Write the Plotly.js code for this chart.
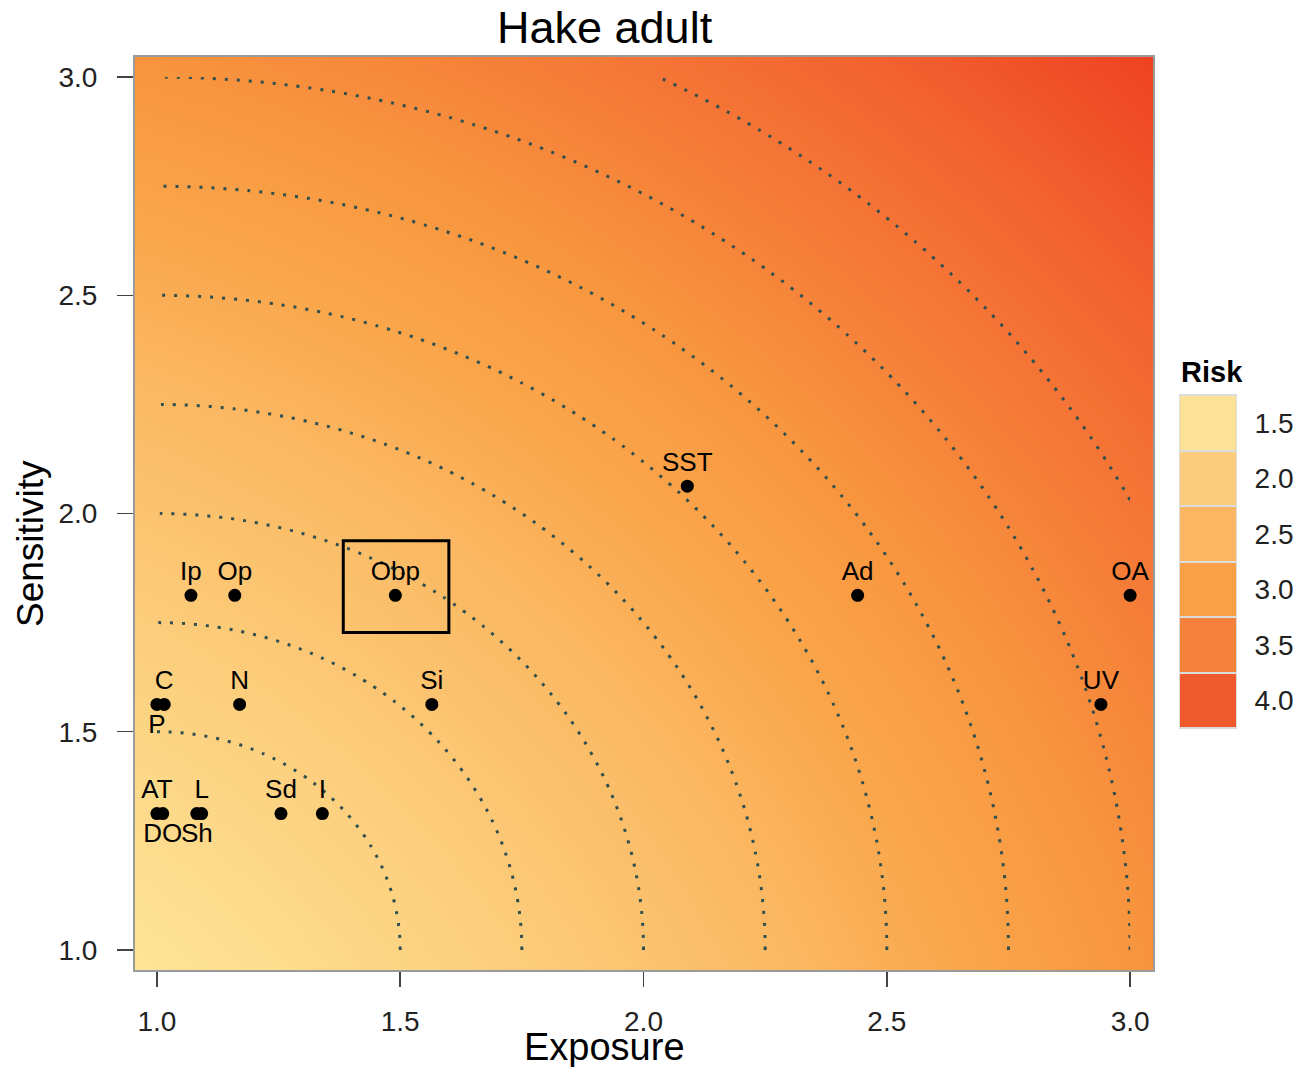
<!DOCTYPE html>
<html>
<head>
<meta charset="utf-8">
<script src="https://cdn.plot.ly/plotly-3.0.1.min.js"></script>
<style>html,body{margin:0;padding:0;background:#fff;}#chart{width:1297px;height:1067px;}</style>
</head>
<body>
<div id="chart"></div>
<script>
// ---- data ----
const labels      = ['SST','Ad','OA','UV','Ip','Op','Obp','C','P','N','Si','AT','DO','L','Sh','Sd','I'];
const exposure    = [2.09, 2.44, 3.00, 2.94, 1.07, 1.16, 1.49, 1.015, 1.00, 1.17, 1.565, 1.00, 1.012, 1.092, 1.082, 1.255, 1.34];
const sensitivity = [2.0625, 1.8125, 1.8125, 1.5625, 1.8125, 1.8125, 1.8125, 1.5625, 1.5625, 1.5625, 1.5625, 1.3125, 1.3125, 1.3125, 1.3125, 1.3125, 1.3125];
const labelsBelow = ['P','DO','Sh'];
const highlighted = 'Obp';

const riskLevels = ['1.5','2.0','2.5','3.0','3.5','4.0'];
const riskColors = ['#FCE296','#FBCC7B','#FAB662','#F8A047','#F4813C','#EF5A2C'];

const axisTicks  = [1.0, 1.5, 2.0, 2.5, 3.0];
const contourLevels = {start: 0.5, end: 2.25, size: 0.25};

// ---- background risk field (risk = distance from origin) ----
const gridE = [], gridS = [];
for (let v = 0.95; v <= 3.0501; v += 0.05) { gridE.push(+v.toFixed(3)); gridS.push(+v.toFixed(3)); }
const riskZ = gridS.map(s => gridE.map(e => Math.sqrt(e*e + s*s)));
const zmin = 1.34, zmax = 4.32;
const bgStops = [[1.34,'#FDE598'],[2.0,'#FCCD7B'],[2.5,'#FBB862'],[2.83,'#FAA64B'],[3.16,'#F8963F'],[3.5,'#F57E38'],[3.9,'#F26330'],[4.32,'#EE4122']];
const bgScale = bgStops.map(s => [(s[0]-zmin)/(zmax-zmin), s[1]]);

// ---- contour field (distance from (1,1)) ----
const cE = [], cS = [];
for (let v = 1.0; v <= 3.0001; v += 0.01) { cE.push(+v.toFixed(3)); cS.push(+v.toFixed(3)); }
const cZ = cS.map(s => cE.map(e => Math.sqrt((e-1)*(e-1) + (s-1)*(s-1))));

const FONT = 'Liberation Sans, Arial, Helvetica, sans-serif';

const traces = [
  {type:'heatmap', x:gridE, y:gridS, z:riskZ, zmin:zmin, zmax:zmax, colorscale:bgScale,
   zsmooth:'best', showscale:false, hoverinfo:'skip'},
  {type:'contour', x:cE, y:cS, z:cZ, showscale:false, hoverinfo:'skip',
   contours:{coloring:'none', start:contourLevels.start, end:contourLevels.end, size:contourLevels.size, showlabels:false},
   line:{color:'#2F4F4F', width:3, dash:'3px,9px', smoothing:1}},
  {type:'scatter', mode:'markers+text', x:exposure, y:sensitivity, text:labels,
   textposition: labels.map(l => labelsBelow.includes(l) ? 'bottom center' : 'top center'),
   textfont:{family:FONT, size:26, color:'#000'},
   marker:{color:'#000', size:13}, hoverinfo:'text', cliponaxis:false},
  {type:'heatmap', xaxis:'x2', yaxis:'y2', x:[0], y:riskLevels.map((_,i)=>i),
   z:riskLevels.map((_,i)=>[i]), zmin:0, zmax:riskLevels.length-1,
   colorscale:riskColors.map((c,i)=>[i/(riskColors.length-1), c]),
   showscale:false, ygap:2, hoverinfo:'skip'}
];

const hi = labels.indexOf(highlighted);
const hx = exposure[hi], hy = sensitivity[hi];

const layout = {
  width:1297, height:1067,
  margin:{l:135, r:10, t:57, b:97},
  paper_bgcolor:'#ffffff', plot_bgcolor:'#dcdcdc',
  showlegend:false,
  xaxis:{domain:[0, 1018/1152], range:[0.955, 3.047], tickvals:axisTicks, ticktext:axisTicks.map(v=>v.toFixed(1)),
    ticks:'outside', ticklen:15, tickwidth:1.5, tickcolor:'#444', ticklabelstandoff:10,
    showline:true, mirror:true, linecolor:'#9a9a9a', linewidth:2, showgrid:false, zeroline:false,
    tickfont:{family:FONT, size:28, color:'#222'}},
  yaxis:{range:[0.954, 3.046], tickvals:axisTicks, ticktext:axisTicks.map(v=>v.toFixed(1)),
    ticks:'outside', ticklen:16, tickwidth:1.5, tickcolor:'#444', ticklabelstandoff:14,
    showline:true, mirror:true, linecolor:'#9a9a9a', linewidth:2, showgrid:false, zeroline:false,
    tickfont:{family:FONT, size:28, color:'#222'}},
  xaxis2:{domain:[(1180-135)/1152, (1236-135)/1152], anchor:'y2', showticklabels:false, ticks:'',
    showgrid:false, zeroline:false, showline:true, mirror:true, linecolor:'#dcdcdc', linewidth:1, range:[-0.5,0.5]},
  yaxis2:{domain:[(970-728)/913, (970-395)/913], anchor:'x2', side:'right', autorange:'reversed',
    tickvals:riskLevels.map((_,i)=>i), ticktext:riskLevels, ticks:'', ticklabelstandoff:12,
    showgrid:false, zeroline:false, showline:true, mirror:true, linecolor:'#dcdcdc', linewidth:1,
    tickfont:{family:FONT, size:28, color:'#222'}},
  shapes:[{type:'rect', xref:'x', yref:'y', x0:hx-0.107, x1:hx+0.11, y0:hy-0.085, y1:hy+0.125,
    line:{color:'#000', width:3}, fillcolor:'rgba(0,0,0,0)'}],
  annotations:[
    {text:'Hake adult', xref:'paper', yref:'paper', x:(605-135)/1152, y:1+(57-28)/913, xanchor:'center', yanchor:'middle',
     showarrow:false, font:{family:FONT, size:45, color:'#000'}},
    {text:'Exposure', xref:'paper', yref:'paper', x:(604-135)/1152, y:(970-1047)/913, xanchor:'center', yanchor:'middle',
     showarrow:false, font:{family:FONT, size:38, color:'#000'}},
    {text:'Sensitivity', xref:'paper', yref:'paper', x:(30-135)/1152, y:(970-544)/913, xanchor:'center', yanchor:'middle',
     textangle:-90, showarrow:false, font:{family:FONT, size:37, color:'#000'}},
    {text:'<b>Risk</b>', xref:'paper', yref:'paper', x:(1212-135)/1152, y:(970-372)/913, xanchor:'center', yanchor:'middle',
     showarrow:false, font:{family:FONT, size:29, color:'#000'}}
  ]
};

Plotly.newPlot('chart', traces, layout, {displayModeBar:false, staticPlot:true});
</script>
</body>
</html>
